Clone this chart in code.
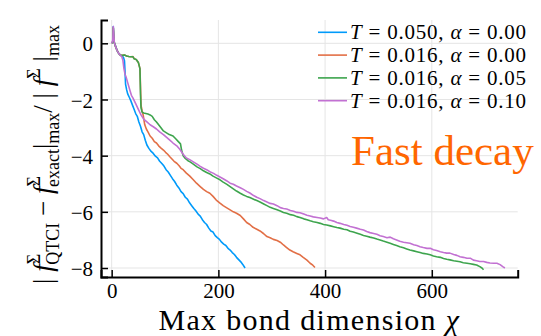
<!DOCTYPE html>
<html lang="en">
    <head>
        <meta charset="UTF-8">
        <title>Fast decay</title>
        <script src="https://cdn.jsdelivr.net/npm/d3@7"></script>
        <style>
            body { margin: 0; background: #fff; }
            svg { display: block; font-family: "Liberation Serif", "Times New Roman", serif; }
        </style>
    </head>
    <body>
        <script>
            // [chi, log10 error]
            const seriesBlue = [[0,0],[2,0.05],[3,0.6],[4,0.25],[5,0.02],[7,-0.08],[10,-0.25],[13,-0.35],[16,-0.42],[19,-0.45],[22,-0.5],[24,-0.62],[25,-1.0],[26,-1.45],[28,-1.65],[30,-1.8],[33,-1.92],[36,-2.05],[39,-2.2],[42,-2.35],[45,-2.5],[48,-2.6],[51,-2.8],[54,-2.95],[57,-3.15],[60,-3.25],[63,-3.45],[66,-3.62],[70,-3.75],[74,-3.85],[78,-3.92],[82,-4.02],[86,-4.08],[90,-4.2],[94,-4.28],[98,-4.37],[102,-4.5],[106,-4.58],[110,-4.7],[114,-4.82],[118,-4.92],[122,-5.05],[126,-5.15],[130,-5.28],[134,-5.35],[138,-5.48],[142,-5.55],[146,-5.68],[150,-5.78],[154,-5.88],[158,-5.97],[162,-6.08],[166,-6.15],[170,-6.28],[174,-6.38],[178,-6.45],[182,-6.58],[186,-6.68],[190,-6.72],[194,-6.85],[198,-6.92],[202,-6.98],[206,-7.08],[210,-7.15],[214,-7.2],[218,-7.3],[222,-7.36],[226,-7.45],[230,-7.52],[234,-7.62],[238,-7.7],[242,-7.78],[246,-7.88],[250,-8.0]];
            const seriesRed = [[0,0],[2,0.05],[3,0.55],[4,0.2],[5,0.02],[7,-0.1],[10,-0.25],[13,-0.35],[16,-0.42],[20,-0.43],[24,-0.42],[28,-0.45],[32,-0.47],[36,-0.48],[40,-0.47],[42,-0.54],[46,-0.58],[50,-0.68],[53,-0.9],[54,-1.5],[55,-2.2],[57,-2.4],[59,-2.55],[62,-2.9],[65,-3.05],[68,-3.15],[72,-3.3],[76,-3.38],[80,-3.5],[84,-3.55],[88,-3.65],[92,-3.72],[97,-3.8],[101,-3.88],[105,-3.95],[109,-4.04],[113,-4.12],[117,-4.2],[122,-4.27],[126,-4.35],[130,-4.45],[134,-4.5],[140,-4.62],[146,-4.72],[153,-4.86],[159,-4.98],[166,-5.1],[172,-5.2],[178,-5.28],[184,-5.34],[190,-5.45],[196,-5.58],[203,-5.69],[209,-5.78],[215,-5.85],[222,-5.93],[228,-6.0],[234,-6.05],[241,-6.13],[247,-6.25],[253,-6.38],[259,-6.45],[265,-6.55],[272,-6.62],[278,-6.68],[285,-6.78],[291,-6.88],[297,-6.92],[303,-6.98],[310,-7.02],[316,-7.08],[322,-7.18],[328,-7.27],[334,-7.36],[340,-7.42],[347,-7.48],[353,-7.53],[359,-7.62],[366,-7.72],[372,-7.83],[377,-7.9],[381,-7.98]];
            const seriesGreen = [[0,0],[2,0.05],[3,0.55],[4,0.2],[5,0.02],[7,-0.1],[10,-0.25],[13,-0.35],[16,-0.42],[20,-0.43],[24,-0.42],[28,-0.45],[32,-0.47],[36,-0.48],[40,-0.48],[42,-0.55],[46,-0.58],[50,-0.68],[53,-0.9],[54,-1.8],[55,-2.3],[57,-2.45],[60,-2.48],[64,-2.5],[68,-2.52],[72,-2.55],[76,-2.6],[80,-2.72],[84,-2.8],[88,-2.9],[92,-3.0],[97,-3.12],[102,-3.18],[108,-3.25],[115,-3.3],[120,-3.4],[125,-3.5],[129,-3.58],[131,-3.8],[134,-4.0],[138,-4.1],[143,-4.18],[147,-4.22],[153,-4.3],[160,-4.4],[166,-4.46],[172,-4.54],[178,-4.6],[184,-4.65],[190,-4.73],[197,-4.8],[203,-4.86],[209,-4.94],[216,-5.02],[222,-5.1],[228,-5.18],[234,-5.26],[241,-5.34],[247,-5.4],[253,-5.45],[259,-5.49],[266,-5.55],[272,-5.6],[278,-5.65],[285,-5.72],[291,-5.78],[297,-5.84],[303,-5.88],[310,-5.93],[316,-5.97],[322,-6.02],[328,-6.05],[335,-6.1],[341,-6.12],[347,-6.17],[353,-6.2],[360,-6.25],[366,-6.28],[372,-6.32],[378,-6.35],[385,-6.38],[391,-6.41],[397,-6.45],[403,-6.47],[410,-6.5],[416,-6.53],[422,-6.56],[428,-6.58],[435,-6.62],[441,-6.64],[447,-6.69],[453,-6.72],[460,-6.76],[466,-6.8],[472,-6.84],[478,-6.87],[484,-6.9],[491,-6.93],[497,-6.97],[503,-7.0],[509,-7.04],[516,-7.08],[522,-7.12],[528,-7.16],[534,-7.2],[540,-7.24],[547,-7.28],[553,-7.32],[559,-7.36],[566,-7.39],[572,-7.42],[578,-7.45],[584,-7.48],[591,-7.5],[597,-7.53],[603,-7.57],[609,-7.6],[616,-7.62],[622,-7.66],[628,-7.69],[634,-7.71],[641,-7.74],[647,-7.76],[653,-7.78],[659,-7.81],[666,-7.83],[672,-7.85],[678,-7.87],[684,-7.89],[690,-7.95],[694,-8.0],[697,-8.06]];
            const seriesPurple = [[0,0],[2,0.1],[3,0.6],[4,0.3],[5,0.02],[7,-0.1],[10,-0.25],[13,-0.35],[16,-0.42],[19,-0.48],[21,-0.6],[23,-0.9],[25,-1.1],[27,-1.2],[30,-1.4],[34,-1.66],[37,-1.85],[40,-1.95],[45,-2.15],[50,-2.35],[55,-2.55],[60,-2.7],[66,-2.8],[72,-2.9],[78,-2.97],[84,-3.05],[90,-3.15],[97,-3.25],[103,-3.35],[109,-3.45],[115,-3.55],[122,-3.65],[128,-3.78],[134,-3.95],[140,-4.08],[147,-4.15],[153,-4.22],[160,-4.3],[166,-4.38],[172,-4.45],[178,-4.5],[184,-4.57],[191,-4.63],[197,-4.7],[203,-4.76],[209,-4.82],[216,-4.9],[222,-4.98],[228,-5.02],[234,-5.08],[241,-5.14],[247,-5.2],[253,-5.27],[259,-5.33],[266,-5.42],[272,-5.48],[278,-5.53],[285,-5.6],[291,-5.65],[297,-5.7],[303,-5.72],[310,-5.78],[316,-5.85],[322,-5.88],[328,-5.9],[335,-5.95],[341,-5.98],[347,-6.02],[353,-6.03],[360,-6.08],[366,-6.12],[372,-6.15],[378,-6.18],[385,-6.2],[391,-6.22],[397,-6.25],[403,-6.2],[406,-6.28],[410,-6.3],[416,-6.33],[422,-6.38],[428,-6.41],[435,-6.45],[441,-6.48],[447,-6.52],[453,-6.55],[459,-6.58],[466,-6.62],[472,-6.65],[478,-6.7],[484,-6.74],[491,-6.77],[497,-6.8],[503,-6.85],[509,-6.88],[516,-6.92],[522,-6.9],[528,-6.96],[534,-7.0],[540,-7.05],[547,-7.08],[553,-7.1],[559,-7.12],[566,-7.17],[572,-7.2],[578,-7.24],[584,-7.27],[591,-7.3],[597,-7.3],[603,-7.35],[609,-7.38],[616,-7.42],[622,-7.45],[628,-7.47],[634,-7.47],[641,-7.52],[647,-7.55],[653,-7.6],[659,-7.62],[666,-7.65],[672,-7.65],[678,-7.72],[684,-7.74],[690,-7.77],[697,-7.77],[703,-7.8],[709,-7.82],[716,-7.83],[722,-7.83],[728,-7.88],[733,-7.95],[737,-8.0]];

            const legendT = ["0.050", "0.016", "0.016", "0.016"];
            const legendAlpha = ["0.00", "0.00", "0.05", "0.10"];
            const colors = ["#009AFA", "#E26F46", "#3DA44D", "#C271D2"];
            const xTicks = [0, 200, 400, 600];
            const yTicks = [0, -2, -4, -6, -8];

            const allSeries = [seriesBlue, seriesRed, seriesGreen, seriesPurple];

            const width = 541, height = 336;
            const plot = {left: 101, right: 517.7, top: 20, bottom: 277};

            const svg = d3
                .select("body")
                .append("svg")
                .attr("width", width)
                .attr("height", height);

            const xScale = d3
                .scaleLinear()
                .domain([-20, 761])
                .range([plot.left, plot.right]);

            const yScale = d3
                .scaleLinear()
                .domain([-8.32, 0.83])
                .range([plot.bottom, plot.top]);

            // grid
            svg.append("g")
                .selectAll("line")
                .data(xTicks)
                .enter()
                .append("line")
                .attr("x1", (d)=>xScale(d))
                .attr("x2", (d)=>xScale(d))
                .attr("y1", plot.top)
                .attr("y2", plot.bottom)
                .attr("stroke", "#e5e5e5")
                .attr("stroke-width", 1);

            svg.append("g")
                .selectAll("line")
                .data(yTicks)
                .enter()
                .append("line")
                .attr("x1", plot.left)
                .attr("x2", plot.right)
                .attr("y1", (d)=>yScale(d))
                .attr("y2", (d)=>yScale(d))
                .attr("stroke", "#e5e5e5")
                .attr("stroke-width", 1);

            // curves
            const line = d3
                .line()
                .x((d)=>xScale(d[0]))
                .y((d)=>yScale(d[1]));

            svg.append("g")
                .selectAll("path")
                .data(allSeries)
                .enter()
                .append("path")
                .attr("d", line)
                .attr("fill", "none")
                .attr("stroke", (d, i)=>colors[i])
                .attr("stroke-width", 1.6)
                .attr("stroke-linejoin", "round");

            // axes (ticks point inward)
            const xAxisGenerator = d3
                .axisBottom(xScale)
                .tickValues(xTicks)
                .tickSize(-7)
                .tickPadding(6)
                .tickFormat(d3.format("d"));

            const yAxisGenerator = d3
                .axisLeft(yScale)
                .tickValues(yTicks)
                .tickSize(-7)
                .tickPadding(8)
                .tickFormat((d)=> d < 0 ? "\u2212" + Math.abs(d) : d);

            const xAxis = svg
                .append("g")
                .attr("transform", "translate(0," + plot.bottom + ")")
                .call(xAxisGenerator);

            const yAxis = svg
                .append("g")
                .attr("transform", "translate(" + plot.left + ",0)")
                .call(yAxisGenerator);

            [xAxis, yAxis].forEach((ax)=>{
                ax.select(".domain").attr("stroke", "#000").attr("stroke-width", 2);
                ax.selectAll(".tick line").attr("stroke", "#000").attr("stroke-width", 1.5);
                ax.selectAll("text")
                    .attr("fill", "#000")
                    .attr("font-size", 21)
                    .attr("font-family", "Liberation Serif");
            });
            yAxis.selectAll("text").attr("dy", "0.36em");

            // axis titles
            const xLabel = svg
                .append("text")
                .attr("x", (plot.left + plot.right) / 2)
                .attr("y", 329.5)
                .attr("text-anchor", "middle")
                .attr("font-size", 30)
                .attr("letter-spacing", 1.3)
                .attr("fill", "#000");
            xLabel.append("tspan").text("Max bond dimension ");
            xLabel.append("tspan").attr("font-style", "italic").text("\u03c7");

            const yLabel = svg
                .append("text")
                .attr("transform", "translate(52," + ((plot.top + plot.bottom) / 2 + 6) + ") rotate(-90)")
                .attr("text-anchor", "middle")
                .attr("font-size", 27)
                .attr("fill", "#000");

            const sub = 18;
            const addPart = (txt, opts)=>{
                const t = yLabel.append("tspan").text(txt);
                if (opts.italic) t.attr("font-style", "italic");
                if (opts.size) t.attr("font-size", opts.size);
                if (opts.dx) t.attr("dx", opts.dx);
                if (opts.dy) t.attr("dy", opts.dy);
                return t;
            };
            addPart("| ", {});
            addPart("f", {italic: true});
            addPart("\u03a3", {size: sub, dy: -12});
            addPart("QTCI", {size: sub, dx: -11, dy: 19});
            addPart(" \u2212 ", {dy: -7});
            addPart("f", {italic: true});
            addPart("\u03a3", {size: sub, dy: -12});
            addPart("exact", {size: sub, dx: -11, dy: 19});
            addPart("|", {dy: -7});
            addPart("max", {size: sub, dy: 7});
            addPart("/ | ", {dy: -7});
            addPart("f", {italic: true});
            addPart("\u03a3", {size: sub, dy: -12});
            addPart(" |", {dy: 12});
            addPart("max", {size: sub, dy: 7});

            // legend
            const legend = svg
                .append("g")
                .selectAll("g")
                .data(legendT)
                .enter()
                .append("g")
                .attr("transform", (d, i)=>"translate(318," + (32.3 + i * 22.8) + ")");

            legend.append("line")
                .attr("x1", 0)
                .attr("x2", 29)
                .attr("stroke", (d, i)=>colors[i])
                .attr("stroke-width", 1.6);

            const legendText = legend.append("text")
                .attr("x", 32)
                .attr("y", 7)
                .attr("font-size", 21)
                .attr("textLength", 176)
                .attr("lengthAdjust", "spacing")
                .attr("fill", "#000");
            legendText.append("tspan").attr("font-style", "italic").text("T");
            legendText.append("tspan").text((d)=>" = " + d + ", ");
            legendText.append("tspan").attr("font-style", "italic").text("\u03b1");
            legendText.append("tspan").text((d, i)=>" = " + legendAlpha[i]);

            svg.append("text")
                .attr("x", 351)
                .attr("y", 165)
                .attr("font-size", 43)
                .attr("fill", "#ff6600")
                .text("Fast decay");
        </script>
    </body>
</html>
